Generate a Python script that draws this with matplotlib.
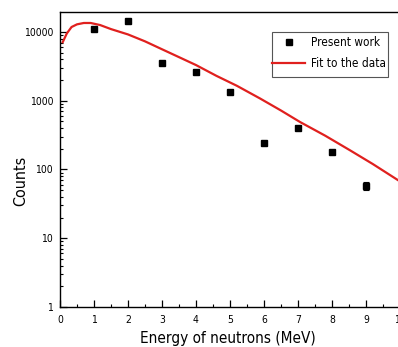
import matplotlib
matplotlib.use("Agg")
import matplotlib.pyplot as plt
from matplotlib.lines import Line2D
from matplotlib.patches import Rectangle
from matplotlib.ticker import FixedLocator, FuncFormatter, LogLocator, MultipleLocator

energy = [1, 2, 3, 4, 5, 6, 7, 8, 9]
counts = [10990, 14350, 3520, 2630, 1334, 244, 404, 179, 58]
count_err = [105, 120, 59, 51, 37, 16, 20, 13, 8]

# Fit curve points
fit_energy = [0.08, 0.2, 0.34, 0.5, 0.7, 0.9, 1.18, 1.5, 2.0, 2.5, 3.0, 3.5, 4.0,
              4.6, 5.2, 5.88, 6.5, 7.06, 7.8, 8.53, 9.2, 9.94, 10.0]
fit_counts = [7100, 9500, 11800, 12900, 13500, 13500, 12600, 11000, 9200, 7300, 5600,
              4300, 3300, 2300, 1650, 1080, 720, 490, 310, 190, 120, 70, 67]

x_ticks = [0, 1, 2, 3, 4, 5, 6, 7, 8, 9, 10]
y_ticks = [1, 10, 100, 1000, 10000]

plt.rcParams['font.family'] = ['DejaVu Sans']
plt.rcParams['font.stretch'] = 'condensed'

W, H = 398, 347
fig = plt.figure(figsize=(W/100, H/100), dpi=100)
ax = fig.add_axes([60/W, 1-307/H, 340/W, 295/H])

ax.errorbar(energy, counts, yerr=count_err, fmt='none', ecolor='black',
            elinewidth=0.8, capsize=2, capthick=0.8, zorder=3)
ax.plot(energy, counts, 's', color='black', ms=4.5, zorder=4)
ax.plot(fit_energy, fit_counts, color='#e0201e', lw=1.6, zorder=2)

ax.set_yscale('log')
ax.set_xlim(0, 10)
ax.set_ylim(1, 19500)

ax.xaxis.set_major_locator(FixedLocator(x_ticks))
ax.xaxis.set_minor_locator(MultipleLocator(0.5))
ax.yaxis.set_major_locator(FixedLocator(y_ticks))
ax.yaxis.set_minor_locator(LogLocator(base=10, subs=range(2, 10)))
ax.yaxis.set_major_formatter(FuncFormatter(lambda v, p: f"{int(round(v))}"))
ax.yaxis.set_minor_formatter(FuncFormatter(lambda v, p: ""))

ax.tick_params(which='major', direction='in', length=5, width=0.9, labelsize=7.5)
ax.tick_params(axis='x', which='major', pad=6)
ax.tick_params(axis='y', which='major', pad=5)
ax.tick_params(which='minor', direction='in', length=2.5, width=0.8)
ax.tick_params(top=False, right=False)

for s in ['left', 'bottom', 'top']:
    ax.spines[s].set_linewidth(1.0)
ax.spines['right'].set_visible(False)

ax.set_xlabel('Energy of neutrons (MeV)', fontsize=11)
ax.xaxis.set_label_coords((228-60)/340, (307-331)/295)
ax.set_ylabel('Counts', fontsize=11.5)
ax.yaxis.set_label_coords((28-60)/340, (307-181)/295)

# legend frame (pixel box 272..388 x 32..77)
frame = Rectangle((272/W, 1-77/H), (388-272)/W, 45/H, transform=fig.transFigure,
                  fill=True, facecolor='white', edgecolor='#555555', lw=0.8,
                  zorder=5, clip_on=False)
ax.add_patch(frame)
handles = [Line2D([], [], ls='none', marker='s', color='black', ms=4.5),
           Line2D([], [], color='#e0201e', lw=1.6)]
leg = ax.legend(handles, ['Present work', 'Fit to the data'], loc='upper left',
                bbox_to_anchor=((272-60)/340, (307-36)/295), borderaxespad=0,
                fontsize=8.5, frameon=False,
                handlelength=2.8, handletextpad=0.5, borderpad=0.0, labelspacing=0.7)
leg.set_zorder(6)

fig.savefig('out.png', dpi=100)
